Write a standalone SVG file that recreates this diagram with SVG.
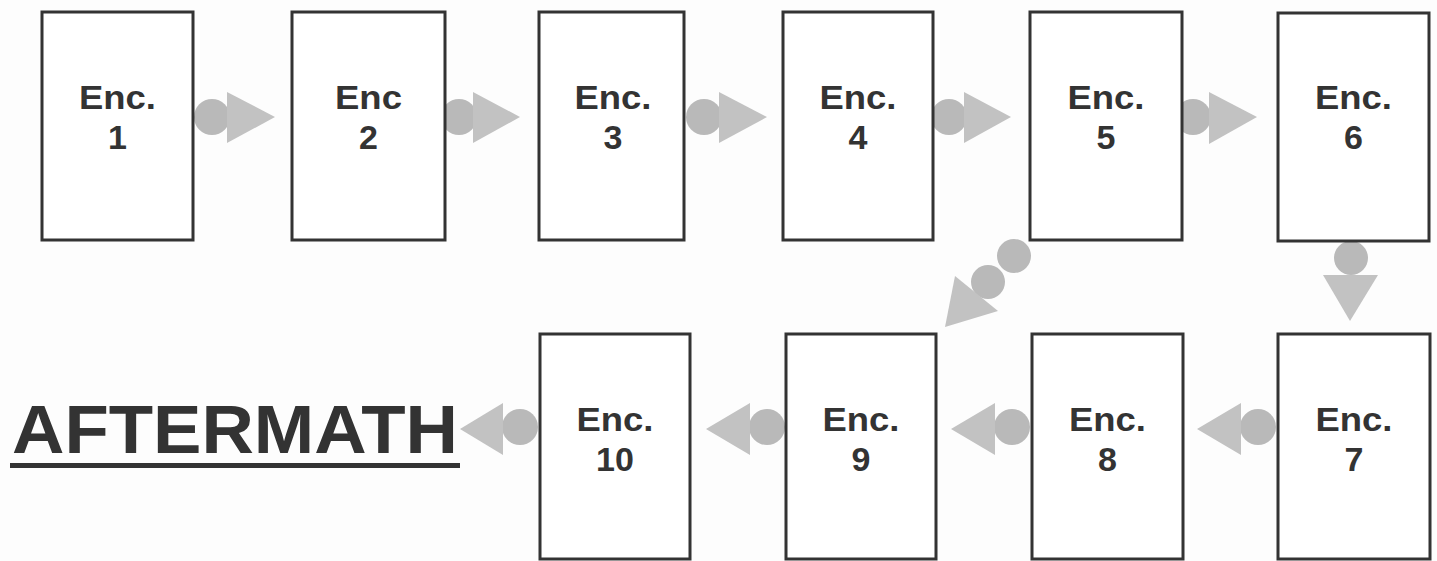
<svg xmlns="http://www.w3.org/2000/svg" width="1437" height="561" viewBox="0 0 1437 561">
<style>
.box{fill:#ffffff;stroke:#333333;stroke-width:3}
.t{font-family:"Liberation Sans",Arial,sans-serif;font-weight:bold;font-size:34px;fill:#333333;text-anchor:middle}
.c{fill:#b9b9b9}
.h{fill:#c2c2c2}
.big{font-family:"Liberation Sans",Arial,sans-serif;font-weight:bold;font-size:68px;fill:#333333}
</style>
<rect width="1437" height="561" fill="#fdfdfd"/>
<g id="connectors">
  <g id="a1-2"><circle class="c" cx="212" cy="117" r="18"/><polygon class="h" points="227,92 227,143 275,117"/></g>
  <g id="a2-3"><circle class="c" cx="459" cy="117" r="18"/><polygon class="h" points="473,92 473,143 520,117"/></g>
  <g id="a3-4"><circle class="c" cx="704" cy="117" r="18"/><polygon class="h" points="719,92 719,143 767,117"/></g>
  <g id="a4-5"><circle class="c" cx="949" cy="117" r="18"/><polygon class="h" points="964,92 964,143 1011,117"/></g>
  <g id="a5-6"><circle class="c" cx="1193" cy="117" r="18"/><polygon class="h" points="1209,92 1209,144 1257,117"/></g>
  <g id="a6-7"><circle class="c" cx="1351" cy="258" r="17"/><polygon class="h" points="1323,275 1378,275 1350,321"/></g>
  <g id="a5-9"><circle class="c" cx="1014" cy="256" r="17"/><circle class="c" cx="988" cy="282" r="17"/><polygon class="h" points="955,276 998,311 945,327"/></g>
  <g id="a7-8"><circle class="c" cx="1258" cy="427" r="18"/><polygon class="h" points="1241,403 1241,455 1197,429"/></g>
  <g id="a8-9"><circle class="c" cx="1012" cy="427" r="18"/><polygon class="h" points="995,403 995,455 951,429"/></g>
  <g id="a9-10"><circle class="c" cx="767" cy="427" r="18"/><polygon class="h" points="750,403 750,455 706,429"/></g>
  <g id="a10-after"><circle class="c" cx="520" cy="427" r="18"/><polygon class="h" points="503,403 503,455 460,429"/></g>
</g>
<g id="n1"><rect class="box" x="42" y="12" width="151" height="228"/><text class="t" x="117.5" y="109" textLength="77" lengthAdjust="spacingAndGlyphs">Enc.</text><text class="t" x="117.5" y="149">1</text></g>
<g id="n2"><rect class="box" x="292" y="12" width="153" height="228"/><text class="t" x="368.5" y="109" textLength="67" lengthAdjust="spacingAndGlyphs">Enc</text><text class="t" x="368.5" y="149">2</text></g>
<g id="n3"><rect class="box" x="539" y="12" width="145" height="228"/><text class="t" x="613" y="109" textLength="77" lengthAdjust="spacingAndGlyphs">Enc.</text><text class="t" x="613" y="149">3</text></g>
<g id="n4"><rect class="box" x="783" y="12" width="150" height="228"/><text class="t" x="858" y="109" textLength="77" lengthAdjust="spacingAndGlyphs">Enc.</text><text class="t" x="858" y="149">4</text></g>
<g id="n5"><rect class="box" x="1030" y="12" width="152" height="228"/><text class="t" x="1106" y="109" textLength="77" lengthAdjust="spacingAndGlyphs">Enc.</text><text class="t" x="1106" y="149">5</text></g>
<g id="n6"><rect class="box" x="1278" y="13" width="151" height="228"/><text class="t" x="1353.5" y="109" textLength="77" lengthAdjust="spacingAndGlyphs">Enc.</text><text class="t" x="1353.5" y="149">6</text></g>
<g id="n7"><rect class="box" x="1278" y="334" width="152" height="225"/><text class="t" x="1354" y="431" textLength="77" lengthAdjust="spacingAndGlyphs">Enc.</text><text class="t" x="1354" y="471">7</text></g>
<g id="n8"><rect class="box" x="1032" y="334" width="151" height="225"/><text class="t" x="1107.5" y="431" textLength="77" lengthAdjust="spacingAndGlyphs">Enc.</text><text class="t" x="1107.5" y="471">8</text></g>
<g id="n9"><rect class="box" x="786" y="334" width="150" height="225"/><text class="t" x="861" y="431" textLength="77" lengthAdjust="spacingAndGlyphs">Enc.</text><text class="t" x="861" y="471">9</text></g>
<g id="n10"><rect class="box" x="540" y="334" width="150" height="225"/><text class="t" x="615" y="431" textLength="77" lengthAdjust="spacingAndGlyphs">Enc.</text><text class="t" x="615" y="471">10</text></g>
<g id="aftermath"><text class="big" x="12" y="453" textLength="446" lengthAdjust="spacingAndGlyphs">AFTERMATH</text><rect x="10" y="463" width="450" height="5" fill="#333333"/></g>
</svg>
